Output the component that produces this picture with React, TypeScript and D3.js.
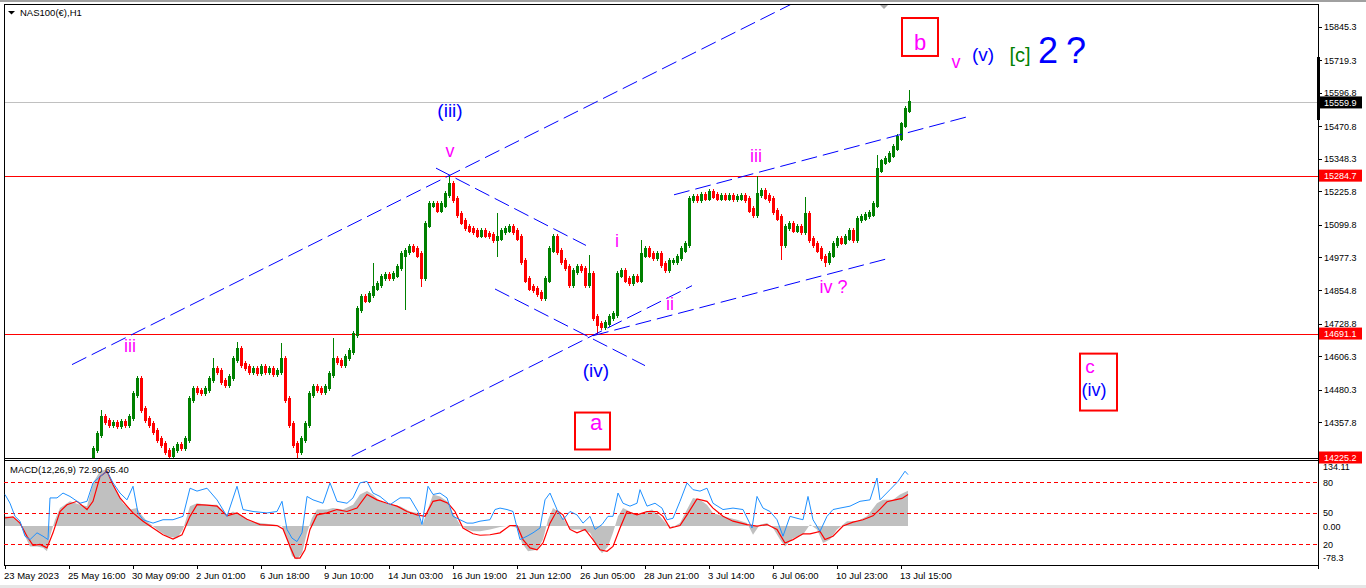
import React from "react";
import * as d3 from "d3";

// ---------- DATA ----------
// H1 chart compressed into 4-hour bars: bar i sits at hour 4*i after 23 May 2023 00:00
const closes = [
  14190, 14180, 14160, 14140, 14110, 14090, 14080, 14060, 14070, 14050,
  14060, 14150, 14170, 14140, 14160, 14150, 14170, 14165, 14180, 14175,
  14190, 14210, 14255, 14311, 14375, 14360, 14349, 14353, 14345, 14357,
  14349, 14375, 14462, 14518, 14405, 14368, 14349, 14323, 14293, 14274,
  14248, 14233, 14255, 14270, 14263, 14293, 14443, 14480, 14473, 14469,
  14480, 14518, 14556, 14548, 14511, 14499, 14526, 14593, 14630, 14574,
  14563, 14548, 14556, 14544, 14563, 14548, 14556, 14541, 14548, 14593,
  14443, 14349, 14274, 14248, 14293, 14349, 14462, 14488, 14480, 14473,
  14488, 14537, 14593, 14586, 14574, 14601, 14623, 14687, 14781, 14826,
  14818, 14837, 14863, 14875, 14901, 14909, 14901, 14912, 14939, 14987,
  14999, 15014, 15006, 14987, 14901, 15100, 15175, 15175, 15156, 15175,
  15213, 15250, 15194, 15138, 15111, 15089, 15081, 15074, 15062, 15074,
  15062, 15059, 15044, 15051, 15074, 15081, 15089, 15074, 15051, 14961,
  14893, 14863, 14856, 14841, 14826, 14893, 15006, 15051, 14999, 14961,
  14939, 14875, 14924, 14939, 14931, 14875, 14912, 14751, 14725, 14717,
  14728, 14751, 14762, 14912, 14924, 14893, 14882, 14901, 14893, 14987,
  15006, 14987, 14976, 14987, 14950, 14931, 14961, 14961, 14976, 15006,
  15025, 15194, 15201, 15194, 15209, 15201, 15220, 15209, 15201, 15205,
  15201, 15205, 15198, 15201, 15205, 15194, 15156, 15138, 15213, 15224,
  15205, 15194, 15149, 15126, 15025, 15089, 15100, 15081, 15089, 15074,
  15138, 15044, 15025, 15006, 14976, 14961, 14987, 15025, 15044, 15036,
  15051, 15074, 15044, 15119, 15126, 15134, 15141, 15175, 15306, 15336,
  15344, 15363, 15389, 15427, 15475, 15532, 15560,
];
// [bar index, high] and [bar index, low] where a wick stands out
const highSpikes = [
  [24, 14405], [33, 14529], [52, 14601], [58, 14660], [69, 14657], [82, 14676],
  [92, 14957], [111, 15284.7], [123, 15145], [137, 15062], [146, 14987], [159, 15044],
  [188, 15285], [200, 15205], [218, 15363], [226, 15607],
];
const lowSpikes = [
  [41, 14200], [73, 14200], [100, 14781], [104, 14867], [123, 14980], [148, 14691],
  [194, 14968], [205, 14942],
];

const priceTicks = [
  15845.3, 15719.3, 15596.8, 15470.8, 15348.3, 15225.8, 15099.8,
  14977.3, 14854.8, 14728.8, 14606.3, 14480.3, 14357.8,
];
const levelPrices = [15559.9, 15284.7, 14691.1, 14225.2];

const timeLabels = [
  "23 May 2023", "25 May 16:00", "30 May 09:00", "2 Jun 01:00", "6 Jun 18:00",
  "9 Jun 10:00", "14 Jun 03:00", "16 Jun 19:00", "21 Jun 12:00", "26 Jun 05:00",
  "28 Jun 21:00", "3 Jul 14:00", "6 Jul 06:00", "10 Jul 23:00", "13 Jul 15:00",
];
const hoursPerLabel = 64;

// MACD panel: [hour, value]
const macdHist = [
  [0, 20], [8, 17], [15, 6], [20, -21], [25, -42], [32, -42], [38, -45], [42, -52], [45, -21], [50, 13],
  [55, 37], [65, 51], [75, 44], [82, 41], [88, 89], [95, 113], [100, 116], [105, 102], [112, 68], [118, 47],
  [125, 34], [132, 37], [135, 27], [142, 10], [152, -7], [162, -21], [172, -25], [178, -7], [185, 41], [192, 47],
  [202, 44], [212, 44], [222, 23], [228, 30], [235, 23], [245, 10], [255, 6], [268, 3], [277, 0], [282, -28],
  [287, -62], [292, -69], [297, -56], [302, -14], [307, 17], [312, 34], [322, 34], [328, 37], [338, 34], [348, 44],
  [355, 65], [362, 72], [368, 65], [375, 51], [385, 44], [395, 41], [405, 30], [413, 27], [417, 0], [422, 30],
  [428, 65], [435, 61], [442, 51], [448, 27], [455, 3], [462, -7], [468, -11], [475, -11], [485, -7], [495, -2],
  [505, 1], [512, -4], [517, -35], [523, -52], [532, -49], [538, -28], [543, 13], [548, 37], [553, 30], [560, 10],
  [565, -7], [575, -7], [585, -14], [592, -42], [597, -56], [603, -42], [608, -14], [613, 20], [618, 37], [625, 30],
  [632, 23], [638, 27], [647, 34], [655, 20], [662, 3], [668, -2], [675, 6], [682, 34], [688, 58], [695, 54],
  [702, 44], [708, 27], [718, 20], [732, 13], [742, 6], [748, -18], [755, 3], [762, 6], [768, -4], [775, -28],
  [780, -42], [788, -25], [798, -18], [805, 3], [812, -7], [818, -35], [825, -28], [832, -7], [842, 10], [852, 10],
  [862, 20], [872, 47], [878, 54], [888, 54], [895, 65], [903, 73],
];
const macdSignal = [
  [0, 17], [8, 19], [15, 6], [22, -21], [28, -40], [35, -38], [42, -45], [48, -14], [55, 30], [62, 44],
  [72, 51], [82, 34], [88, 51], [95, 102], [102, 113], [108, 85], [115, 58], [122, 41], [128, 27], [138, 10],
  [148, -4], [158, -18], [168, -27], [177, -18], [185, 20], [192, 44], [202, 43], [212, 41], [222, 21], [232, 27],
  [242, 14], [255, 3], [272, 1], [278, -6], [285, -42], [290, -66], [295, -66], [300, -49], [305, -7], [312, 23],
  [322, 27], [332, 34], [342, 30], [352, 37], [362, 65], [372, 54], [382, 47], [392, 41], [402, 30], [412, 23],
  [420, 20], [428, 51], [435, 54], [443, 47], [450, 30], [458, -4], [468, -16], [475, -19], [485, -18], [495, -14],
  [505, 1], [512, 1], [518, -28], [525, -45], [532, -49], [538, -35], [545, 6], [552, 32], [558, 23], [565, -7],
  [572, -14], [580, -7], [588, -28], [595, -49], [602, -52], [608, -42], [615, -4], [622, 30], [632, 23], [642, 30],
  [652, 30], [658, 20], [665, -4], [675, 1], [682, 23], [692, 56], [702, 51], [708, 37], [718, 20], [728, 10],
  [742, 3], [752, 0], [762, 3], [772, -7], [780, -35], [788, -28], [798, -16], [805, -16], [815, -11], [820, -28],
  [828, -21], [838, 0], [848, 8], [858, 13], [868, 21], [875, 35], [882, 50], [890, 54], [897, 57], [903, 65],
];
const macdBlue = [
  [0, 65], [5, 47], [10, 20], [15, 10], [20, -21], [25, -28], [32, -14], [38, -21], [43, -28], [45, 58],
  [52, 58], [58, 68], [65, 61], [75, 47], [82, 51], [88, 89], [95, 102], [102, 113], [108, 89], [115, 68],
  [122, 54], [128, 82], [133, 27], [138, 13], [148, 6], [158, 13], [168, 13], [178, 20], [185, 78], [192, 72],
  [202, 78], [212, 54], [222, 20], [232, 82], [238, 34], [248, 30], [262, 27], [272, 30], [277, 51], [282, -7],
  [287, -25], [292, -32], [297, -14], [302, 61], [308, 54], [318, 47], [325, 89], [332, 51], [342, 47], [348, 58],
  [355, 89], [362, 92], [368, 68], [375, 61], [385, 44], [395, 58], [405, 58], [413, 30], [417, 3], [423, 82],
  [428, 65], [435, 68], [442, 58], [448, 20], [455, 13], [462, 6], [468, 6], [475, 10], [485, 13], [490, 34],
  [495, 37], [502, 34], [508, 30], [515, -28], [522, -21], [528, -14], [535, -4], [540, 54], [545, 68], [552, 34],
  [558, 13], [565, 30], [572, 23], [578, 6], [585, 20], [590, -7], [597, 3], [603, 20], [608, 20], [613, 68],
  [618, 47], [625, 41], [632, 47], [635, 75], [642, 41], [650, 47], [657, 37], [662, 13], [668, 16], [675, 51],
  [682, 89], [688, 75], [695, 72], [702, 78], [708, 47], [718, 34], [728, 37], [738, 34], [747, -4], [752, 61],
  [758, 37], [765, 30], [772, 13], [778, -21], [785, 20], [792, 16], [798, 13], [803, 61], [808, 13], [815, -11],
  [822, 20], [828, 34], [835, 37], [845, 41], [855, 51], [865, 54], [872, 99], [875, 54], [885, 75], [893, 92],
  [900, 113], [903, 106],
];
const macdLevels = [90, 27, -38];
const macdLevelLabels = ["80", "50", "20"];
const macdMax = 134.11;
const macdMin = -78.3;

// trend lines: [hour1, price1, hour2, price2]
const trendLines = [
  [67, 14574.4, 800, 15955],
  [346.7, 14230, 687, 14871],
  [431, 15312.9, 581, 15022.3],
  [490, 14858.6, 640, 14570.6],
  [669, 15212.7, 963, 15506.6],
  [588, 14683, 885, 14975],
];

// wave labels: [text, hour, price (baseline)]
const waveBlue = [
  ["(iii)", 445, 15505.5], ["(iv)", 591, 14529.4], ["(v)", 978, 15715.8], ["(iv)", 1089, 14458],
];
const waveMagenta = [
  ["v", 445, 15355.3], ["iii", 125, 14623.1], ["i", 612, 15017.4], ["ii", 665, 14780.9],
  ["iii", 751, 15336.6], ["iv ?", 828.5, 14844.7], ["v", 951, 15689.5], ["c", 1085, 14541],
];
// boxed labels: [text, hour1, price1, hour2, price2, hour text, price text]
const boxes = [
  ["a", 570, 14394.2, 605, 14255.3, 591, 14330.3],
  ["b", 897, 15877.2, 933, 15734.5, 915, 15757.1],
  ["", 1075, 14615.7, 1112, 14401.7, 0, 0],
];

// ---------- COMPONENT ----------
const W = 1366;
const H = 588;
const L = 4;
const R = 1318;
const TOP = 4;
const BOT = 458;
const MTOP = 460;
const MBOT = 565;
const FONT = "'Liberation Sans', Arial, sans-serif";

export default function App() {
  const xs = d3.scaleLinear().domain([0, 1313]).range([5, 1318]);
  const ys = d3.scaleLinear().domain([14225.2, 15845.3]).range([457.5, 26.5]);
  const ym = d3.scaleLinear().domain([macdMin, macdMax]).range([564, 461]);

  const hiMap = new Map(highSpikes.map((d) => [d[0], d[1]]));
  const loMap = new Map(lowSpikes.map((d) => [d[0], d[1]]));
  const WICK = 13;
  const bars = closes.map((c, i) => {
    const o = i === 0 ? c : closes[i - 1];
    let hi = Math.max(o, c) + WICK;
    let lo = Math.min(o, c) - WICK;
    if (hiMap.has(i)) hi = Math.max(hi, hiMap.get(i) as number);
    if (loMap.has(i)) lo = Math.min(lo, loMap.get(i) as number);
    return { h: i * 4, o, c, hi, lo };
  });

  const line = d3
    .line<number[]>()
    .x((d) => xs(d[0]))
    .y((d) => ym(d[1]));
  const area = d3
    .area<number[]>()
    .x((d) => xs(d[0]))
    .y0(ym(0))
    .y1((d) => ym(d[1]));

  const levelColors = ["#c0c0c0", "#ff0000", "#ff0000", "#ff0000"];
  const levelBoxColors = ["#000000", "#ff0000", "#ff0000", "#ff0000"];

  return (
    <svg
      width={W}
      height={H}
      style={{ position: "absolute", left: 0, top: 0, background: "#ffffff" }}
      fontFamily={FONT}
    >
      <defs>
        <clipPath id="mainClip">
          <rect x={L} y={TOP} width={R - L} height={BOT - TOP} />
        </clipPath>
        <clipPath id="macdClip">
          <rect x={L} y={MTOP} width={R - L} height={MBOT - MTOP} />
        </clipPath>
      </defs>
      <rect x={0} y={0} width={W} height={H} fill="#ffffff" />
      <rect x={0} y={0} width={W} height={2} fill="#a0a0a0" />
      <rect x={0} y={585} width={W} height={3} fill="#e6e6e6" />

      {/* main panel */}
      <g clipPath="url(#mainClip)">
        {levelPrices.map((p, i) => (
          <line
            key={"hl" + i}
            x1={L}
            x2={R}
            y1={Math.round(ys(p)) + 0.5}
            y2={Math.round(ys(p)) + 0.5}
            stroke={levelColors[i]}
            strokeWidth={1}
          />
        ))}
        {bars.map((b, i) => (
          <g key={"b" + i} fill={b.c >= b.o ? "#008000" : "#ff0000"} shapeRendering="crispEdges">
            <rect
              x={Math.round(xs(b.h)) - 1}
              y={ys(Math.max(b.o, b.c) + WICK * 0.5)}
              width={3}
              height={Math.max(1, ys(Math.min(b.o, b.c) - WICK * 0.5) - ys(Math.max(b.o, b.c) + WICK * 0.5))}
            />
            <rect
              x={Math.round(xs(b.h))}
              y={ys(b.hi)}
              width={1}
              height={Math.max(1, ys(b.lo) - ys(b.hi))}
            />
          </g>
        ))}
        {trendLines.map((t, i) => (
          <line
            key={"t" + i}
            x1={xs(t[0])}
            y1={ys(t[1])}
            x2={xs(t[2])}
            y2={ys(t[3])}
            stroke="#0000ff"
            strokeWidth={1}
            strokeDasharray="16,6"
          />
        ))}
      </g>

      {/* labels */}
      {boxes.map((b, i) => (
        <g key={"box" + i}>
          <rect
            x={xs(b[1] as number)}
            y={ys(b[2] as number)}
            width={xs(b[3] as number) - xs(b[1] as number)}
            height={ys(b[4] as number) - ys(b[2] as number)}
            fill="none"
            stroke="#ff0000"
            strokeWidth={2}
          />
          {b[0] !== "" && (
            <text
              x={xs(b[5] as number)}
              y={ys(b[6] as number)}
              textAnchor="middle"
              fontSize={22}
              fill="#ff00ff"
            >
              {b[0]}
            </text>
          )}
        </g>
      ))}
      {waveMagenta.map((w, i) => (
        <text
          key={"wm" + i}
          x={xs(w[1] as number)}
          y={ys(w[2] as number)}
          textAnchor="middle"
          fontSize={w[0] === "c" ? 19 : 18}
          fill="#ff00ff"
        >
          {w[0]}
        </text>
      ))}
      {waveBlue.map((w, i) => (
        <text
          key={"wb" + i}
          x={xs(w[1] as number)}
          y={ys(w[2] as number)}
          textAnchor="middle"
          fontSize={i === 3 ? 18 : 19}
          fill="#0000ff"
        >
          {w[0]}
        </text>
      ))}
      <text x={xs(1015)} y={ys(15712)} textAnchor="middle" fontSize={20} fill="#008000">
        [c]
      </text>
      <text x={xs(1043)} y={ys(15708.3)} textAnchor="middle" fontSize={36} fill="#0000ff">
        2
      </text>
      <text x={xs(1071)} y={ys(15708.3)} textAnchor="middle" fontSize={36} fill="#0000ff">
        ?
      </text>

      {/* title */}
      <path d="M8,11 L15,11 L11.5,14.5 Z" fill="#000" />
      <text x={20} y={16} fontSize={9.5} fill="#000">
        NAS100(€),H1
      </text>
      <path d="M880,5 L888,5 L884,9 Z" fill="#a8a8a8" />

      {/* frames */}
      <line x1={L + 0.5} x2={L + 0.5} y1={TOP} y2={MBOT} stroke="#000" />
      <line x1={R + 0.5} x2={R + 0.5} y1={TOP} y2={MBOT + 4} stroke="#000" />
      <line x1={L} x2={R} y1={TOP + 0.5} y2={TOP + 0.5} stroke="#000" />
      <line x1={L} x2={R} y1={BOT + 0.5} y2={BOT + 0.5} stroke="#000" />
      <line x1={L} x2={R} y1={MTOP + 0.5} y2={MTOP + 0.5} stroke="#000" />
      <line x1={L} x2={R} y1={MBOT + 0.5} y2={MBOT + 0.5} stroke="#000" />

      {/* price axis */}
      {priceTicks.map((p, i) => (
        <g key={"pt" + i}>
          <line x1={R} x2={R + 4} y1={Math.round(ys(p)) + 0.5} y2={Math.round(ys(p)) + 0.5} stroke="#000" />
          <text x={1324} y={ys(p) + 3.5} fontSize={9} fill="#000">
            {p.toFixed(1)}
          </text>
        </g>
      ))}
      <rect x={R - 1} y={57} width={3} height={63} fill="#000" />
      {levelPrices.map((p, i) => (
        <g key={"lb" + i}>
          <rect x={R + 1} y={ys(p) - 6} width={43} height={12} fill={levelBoxColors[i]} />
          <text x={1324} y={ys(p) + 3.5} fontSize={9} fill="#ffffff">
            {p.toFixed(1)}
          </text>
        </g>
      ))}

      {/* MACD panel */}
      <g clipPath="url(#macdClip)">
        <path d={area(macdHist) || ""} fill="#c0c0c0" />
        {macdLevels.map((v, i) => (
          <line
            key={"ml" + i}
            x1={L}
            x2={R}
            y1={Math.round(ym(v)) + 0.5}
            y2={Math.round(ym(v)) + 0.5}
            stroke="#ff0000"
            strokeDasharray="4,3"
          />
        ))}
        <path d={line(macdSignal) || ""} fill="none" stroke="#ff0000" strokeWidth={1.2} />
        <path d={line(macdBlue) || ""} fill="none" stroke="#1e90ff" strokeWidth={1} />
      </g>
      <text x={10} y={473} fontSize={9.5} fill="#000">
        MACD(12,26,9) 72.90 65.40
      </text>
      <text x={1323} y={ym(macdMax) + 9} fontSize={9} fill="#000">
        {macdMax.toFixed(2)}
      </text>
      <text x={1323} y={ym(0) + 3.5} fontSize={9} fill="#000">
        0.00
      </text>
      <text x={1323} y={ym(macdMin) - 3} fontSize={9} fill="#000">
        {macdMin.toFixed(1)}
      </text>
      {macdLevels.map((v, i) => (
        <text key={"mlt" + i} x={1323} y={ym(v) + 3.5} fontSize={9} fill="#000">
          {macdLevelLabels[i]}
        </text>
      ))}

      {/* time axis */}
      {timeLabels.map((t, i) => (
        <g key={"tl" + i}>
          <line
            x1={Math.round(xs(i * hoursPerLabel)) + 0.5}
            x2={Math.round(xs(i * hoursPerLabel)) + 0.5}
            y1={MBOT}
            y2={MBOT + 4}
            stroke="#000"
          />
          <text x={xs(i * hoursPerLabel) - 1} y={579} fontSize={9.5} fill="#000">
            {t}
          </text>
        </g>
      ))}
    </svg>
  );
}
